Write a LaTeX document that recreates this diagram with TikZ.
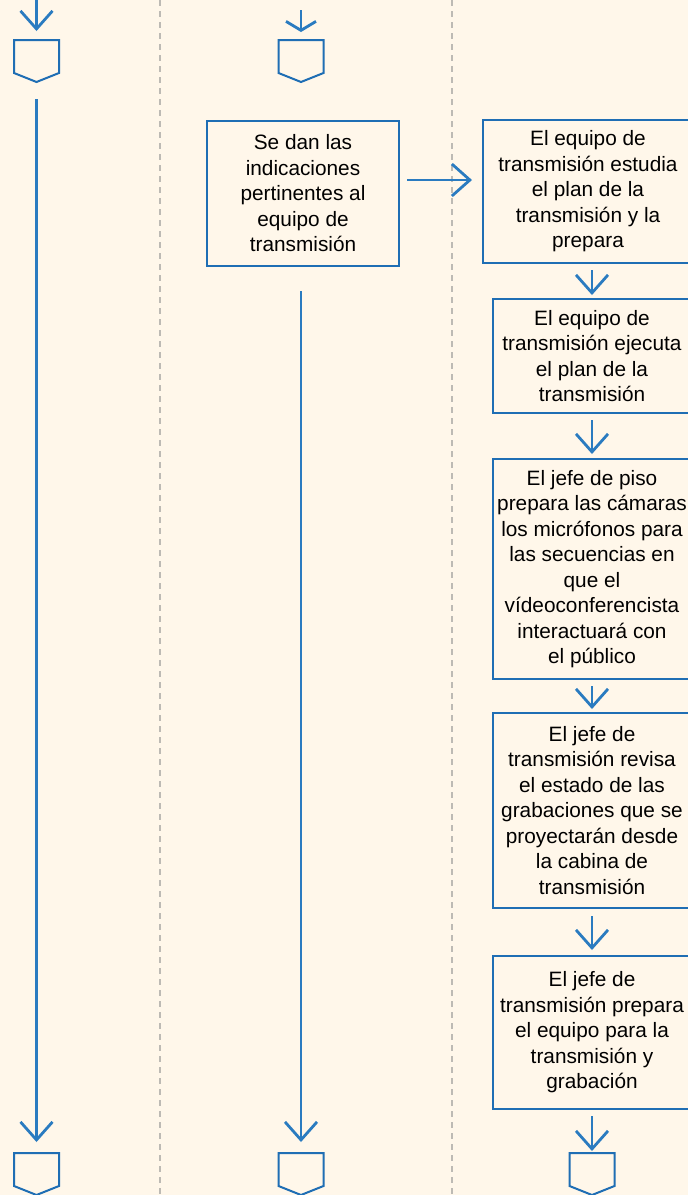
\documentclass[tikz,border=0pt]{standalone}
\usepackage{fontspec}
\setmainfont{Liberation Sans}
\usetikzlibrary{calc,arrows.meta}
\definecolor{paper}{HTML}{FFF7EA}
\definecolor{flow}{HTML}{2A7BC0}
\definecolor{frame}{HTML}{1F6EB4}
\definecolor{lane}{HTML}{BDBAB4}
\newcommand{\offpage}[2]{
    \coordinate (#1) at (#2);
    \coordinate (#1 tip) at ($(#1)+(0,42)$);
    \draw[page] ($(#1)+(-22.5,0)$) -- ($(#1)+(22.5,0)$) -- ($(#1)+(22.5,33)$) -- (#1 tip) -- ($(#1)+(-22.5,33)$) -- cycle;
}

\begin{document}
\begin{tikzpicture}[x=1pt,y=-1pt,every node/.style={font=\fontsize{20.8}{25.5}\selectfont,text=black}]

\tikzstyle{task}=[draw=frame,line width=2pt,align=center,inner sep=0pt,minimum width=198pt]
\tikzstyle{page}=[draw=frame,line width=2pt]
\tikzstyle{flowline}=[flow,line width=2.8pt,-{Straight Barb[length=18pt,width=32pt]}]
\tikzstyle{lanesep}=[lane,line width=1.5pt,dash pattern=on 6pt off 5pt]

\fill[paper] (0,0) rectangle (688,1195);
\useasboundingbox (0,0) rectangle (688,1195);
\clip (0,0) rectangle (688,1195);

% lanes
\draw[lanesep] (160,0) -- (160,1195);
\draw[lanesep] (452,0) -- (452,1195);

% off-page connectors
\offpage{topL}{36.5,40}
\offpage{topM}{301,40}
\offpage{botL}{36.5,1153}
\offpage{botM}{301,1153}
\offpage{botR}{592,1153}

% activities
\node (indica) [task,minimum width=192pt,minimum height=145pt] at (303,193.5) {Se dan las\\indicaciones\\pertinentes al\\equipo de\\transmisión};
\node (estudia) [task,minimum width=210pt,minimum height=143pt] at (588,191.5) {El equipo de\\transmisión estudia\\el plan de la\\transmisión y la\\prepara};
\node (ejecuta) [task,minimum height=114pt] at (592,356) {El equipo de\\transmisión ejecuta\\el plan de la\\transmisión};
\node (camaras) [task,minimum height=220pt] at (592,569) {El jefe de piso\\prepara las cámaras\\los micrófonos para\\las secuencias en\\que el\\vídeoconferencista\\interactuará con\\el público};
\node (revisa) [task,minimum height=195pt] at (592,810.5) {El jefe de\\transmisión revisa\\el estado de las\\grabaciones que se\\proyectarán desde\\la cabina de\\transmisión};
\node (prepara) [task,minimum height=153pt] at (592,1032.5) {El jefe de\\transmisión prepara\\el equipo para la\\transmisión y\\grabación};

% arrows
\coordinate (startL) at (36.5,0);
\coordinate (startM) at (301,10);
\draw[flowline,shorten >=9pt] (startL) -- (topL);
\draw[flowline,-{Straight Barb[length=9pt,width=30pt]},shorten >=8pt] (startM) -- (topM);
\draw[flowline,shorten <=17pt,shorten >=11pt] (topL tip) -- (botL);
\draw[flowline,shorten <=24pt,shorten >=11pt] (indica.south -| botM) -- (botM);
\draw[flowline,shorten <=7pt,shorten >=10pt] ([yshift=13.5pt]indica.east) -- ([yshift=13.5pt]indica.east -| estudia.west);
\draw[flowline,shorten <=6pt,shorten >=3pt] (estudia.south -| ejecuta.north) -- (ejecuta.north);
\draw[flowline,shorten <=6pt,shorten >=4pt] (ejecuta) -- (camaras);
\draw[flowline,shorten <=6pt,shorten >=3pt] (camaras) -- (revisa);
\draw[flowline,shorten <=7pt,shorten >=5pt] (revisa) -- (prepara);
\draw[flowline,shorten <=6pt,shorten >=2pt] (prepara.south) -- (botR);
\end{tikzpicture}
\end{document}
